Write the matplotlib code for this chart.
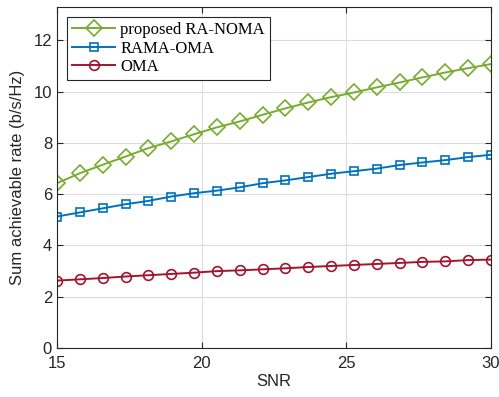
import numpy as np
import matplotlib
matplotlib.use('Agg')
import matplotlib.pyplot as plt

# SNR points (20 samples between 15 and 30 dB)
snr = np.linspace(15, 30, 20)

ra_noma = [6.43, 6.82, 7.15, 7.47, 7.80, 8.06, 8.34, 8.61, 8.84, 9.10,
           9.35, 9.58, 9.79, 9.97, 10.17, 10.36, 10.56, 10.75, 10.92, 11.08]
rama_oma = [5.13, 5.29, 5.45, 5.61, 5.74, 5.91, 6.04, 6.14, 6.27, 6.43,
            6.54, 6.67, 6.80, 6.90, 7.00, 7.14, 7.24, 7.33, 7.45, 7.54]
oma = [2.63, 2.68, 2.73, 2.79, 2.84, 2.89, 2.94, 3.00, 3.03, 3.07,
       3.11, 3.16, 3.20, 3.24, 3.28, 3.32, 3.36, 3.38, 3.43, 3.45]

labels = ['proposed RA-NOMA', 'RAMA-OMA', 'OMA']

plt.rcParams['font.family'] = ['Liberation Sans', 'DejaVu Sans']

fig = plt.figure(figsize=(4.99, 3.97), dpi=100)
ax = fig.add_axes([0.1142, 0.1234, 0.8698, 0.8586])

ax.plot(snr, ra_noma, color='#77AC30', marker='D', ms=8, mfc='none', mew=1.2, lw=1.4, label=labels[0])
ax.plot(snr, rama_oma, color='#0072BD', marker='s', ms=6, mfc='none', mew=1.2, lw=1.4, label=labels[1])
ax.plot(snr, oma, color='#A2142F', marker='o', ms=7, mfc='none', mew=1.2, lw=1.4, label=labels[2])

ax.set_xlim(15, 30)
ax.set_ylim(0, 13.3)
ax.set_xticks([15, 20, 25, 30])
ax.set_yticks([0, 2, 4, 6, 8, 10, 12])
ax.grid(True, color='#dcdcdc', lw=0.8)
ax.set_axisbelow(True)
ax.tick_params(direction='in', top=True, right=True, labelsize=12, colors='#262626', length=4)
ax.tick_params(axis='x', pad=6)
for s in ax.spines.values():
    s.set_color('#262626')
    s.set_linewidth(0.8)

ax.set_xlabel('SNR', fontsize=12, color='#262626', labelpad=2)
ax.set_ylabel('Sum achievable rate (b/s/Hz)', fontsize=12, color='#262626', labelpad=6)

leg = ax.legend(loc='upper left', prop={'family': 'Liberation Serif', 'size': 12},
                fancybox=False, edgecolor='#262626', framealpha=1,
                borderpad=0.3, labelspacing=0.15, handlelength=2.6, handletextpad=0.3,
                borderaxespad=0.6)
leg.get_frame().set_linewidth(0.8)

fig.savefig('out.png', dpi=100)
